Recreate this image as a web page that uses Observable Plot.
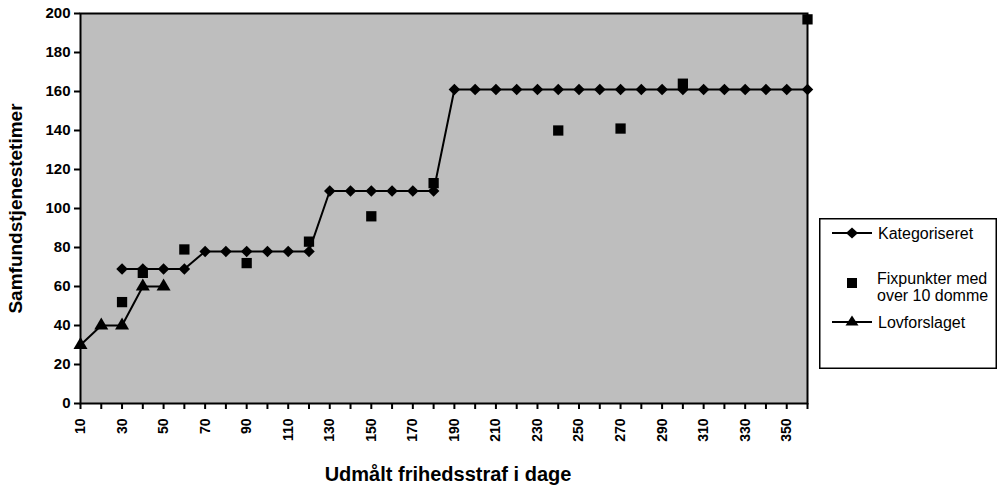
<!DOCTYPE html>
<html>
<head>
<meta charset="utf-8">
<script src="https://cdn.jsdelivr.net/npm/d3@7"></script>
<script src="https://cdn.jsdelivr.net/npm/@observablehq/plot@0.6"></script>
<style>
  html, body { margin: 0; padding: 0; background: white; }
  #wrap { position: relative; width: 999px; height: 490px; font-family: "Liberation Sans", Arial, sans-serif; }
  #legend { position: absolute; left: 819px; top: 218px; }
</style>
</head>
<body>
<div id="wrap"></div>
<script>
// ---- data ----
const katDays  = [30,40,50,60,70,80,90,100,110,120,130,140,150,160,170,180,190,200,210,220,230,240,250,260,270,280,290,300,310,320,330,340,350,360];
const katHours = [69,69,69,69,78,78,78,78,78,78,109,109,109,109,109,109,161,161,161,161,161,161,161,161,161,161,161,161,161,161,161,161,161,161];

const fixDays  = [30,40,60,90,120,150,180,240,270,300,360];
const fixHours = [52,67,79,72,83,96,113,140,141,164,197];

const lovDays  = [10,20,30,40,50];
const lovHours = [30,40,40,60,60];

const xTicksAll = d3.range(10, 361, 10);
const xTickLabels = [10,30,50,70,90,110,130,150,170,190,210,230,250,270,290,310,330,350];
const yTicks = [0,20,40,60,80,100,120,140,160,180,200];

const seriesNames = ["Kategoriseret", "Fixpunkter med", "over 10 domme", "Lovforslaget"];
const xTitle = "Udmålt frihedsstraf i dage";
const yTitle = "Samfundstjenestetimer";

const kat = katDays.map((d, i) => ({d, h: katHours[i]}));
const fix = fixDays.map((d, i) => ({d, h: fixHours[i]}));
const lov = lovDays.map((d, i) => ({d, h: lovHours[i]}));

const font = "'Liberation Sans', Arial, sans-serif";

const chart = Plot.plot({
  width: 999,
  height: 490,
  marginLeft: 80,
  marginRight: 192,
  marginTop: 13,
  marginBottom: 87,
  style: { fontFamily: font, background: "white", overflow: "visible" },
  x: { domain: [10, 360] },
  y: { domain: [0, 200] },
  marks: [
    Plot.frame({ fill: "#bebebe" }),
    Plot.axisY({ ticks: yTicks, tickSize: 6, tickPadding: 4, fontSize: 15, fontWeight: "bold", strokeWidth: 2, label: null }),
    Plot.axisX({ ticks: xTicksAll, tickSize: 6, tickFormat: () => "", strokeWidth: 2, label: null }),
    Plot.axisX({ ticks: xTickLabels, tickSize: 0, tickPadding: 15, tickRotate: -90, fontSize: 14, fontWeight: "bold", label: null }),
    Plot.line(kat, { x: "d", y: "h", stroke: "black", strokeWidth: 2 }),
    Plot.dot(kat, { x: "d", y: "h", symbol: "diamond2", r: 5.2, fill: "black", stroke: "none" }),
    Plot.line(lov, { x: "d", y: "h", stroke: "black", strokeWidth: 2 }),
    Plot.dot(lov, { x: "d", y: "h", symbol: "triangle", r: 5.2, fill: "black", stroke: "none" }),
    Plot.dot(fix, { x: "d", y: "h", symbol: "square", r: 5.8, fill: "black", stroke: "none" }),
    Plot.frame({ stroke: "black", strokeWidth: 2 }),
    Plot.text([yTitle], { frameAnchor: "left", textAnchor: "middle", dx: -65, rotate: -90, fontSize: 19, fontWeight: "bold", fill: "black" }),
    Plot.text([xTitle], { frameAnchor: "bottom", textAnchor: "middle", dx: 4, dy: 77, fontSize: 20, fontWeight: "bold", fill: "black" })
  ]
});

const wrap = document.getElementById("wrap");
wrap.appendChild(chart);

// ---- legend ----
const lg = d3.select(wrap).append("svg")
  .attr("id", "legend")
  .attr("width", 178).attr("height", 151)
  .style("font-family", font);
lg.append("rect").attr("x", 0.75).attr("y", 0.75).attr("width", 176.5).attr("height", 149.5)
  .attr("fill", "white").attr("stroke", "black").attr("stroke-width", 1.5);
// Kategoriseret
lg.append("line").attr("x1", 13).attr("x2", 53).attr("y1", 15).attr("y2", 15).attr("stroke", "black").attr("stroke-width", 2);
lg.append("path").attr("d", "M33,9.5L39,15L33,20.5L27,15Z").attr("fill", "black");
lg.append("text").attr("x", 59).attr("y", 20.5).attr("font-size", 16).text(seriesNames[0]);
// Fixpunkter
lg.append("rect").attr("x", 28).attr("y", 60).attr("width", 10).attr("height", 10).attr("fill", "black");
lg.append("text").attr("x", 58).attr("y", 65.5).attr("font-size", 16).text(seriesNames[1]);
lg.append("text").attr("x", 58).attr("y", 82.5).attr("font-size", 16).text(seriesNames[2]);
// Lovforslaget
lg.append("line").attr("x1", 13).attr("x2", 53).attr("y1", 104).attr("y2", 104).attr("stroke", "black").attr("stroke-width", 2);
lg.append("path").attr("d", "M33,97.5L39.5,107.5L26.5,107.5Z").attr("fill", "black");
lg.append("text").attr("x", 59).attr("y", 109.5).attr("font-size", 16).text(seriesNames[3]);
</script>
</body>
</html>
